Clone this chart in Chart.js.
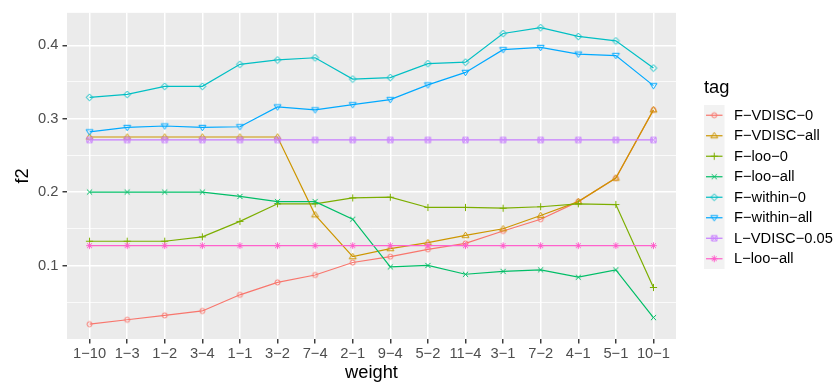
<!DOCTYPE html>
<html>
<head>
<meta charset="utf-8">
<script src="https://cdn.jsdelivr.net/npm/chart.js@4/dist/chart.umd.min.js"></script>
<style>
  html, body { margin: 0; padding: 0; background: #ffffff; }
  #wrap { width: 839px; height: 389px; position: relative; }
</style>
</head>
<body>
<div id="wrap"><canvas id="chart" width="839" height="389"></canvas></div>
<script>
// Weight ratios along the x axis
const weights = ['1−10', '1−3', '1−2', '3−4', '1−1', '3−2', '7−4', '2−1', '9−4', '5−2', '11−4', '3−1', '7−2', '4−1', '5−1', '10−1'];

// Series names (legend "tag")
const tags = ['F−VDISC−0', 'F−VDISC−all', 'F−loo−0', 'F−loo−all', 'F−within−0', 'F−within−all', 'L−VDISC−0.05', 'L−loo−all'];

// f2 scores per series
const fVdisc0    = [0.020, 0.026, 0.032, 0.038, 0.060, 0.077, 0.087, 0.104, 0.112, 0.122, 0.130, 0.147, 0.163, 0.187, 0.219, 0.312];
const fVdiscAll  = [0.275, 0.275, 0.275, 0.275, 0.275, 0.275, 0.169, 0.112, 0.123, 0.131, 0.141, 0.150, 0.168, 0.187, 0.219, 0.312];
const fLoo0      = [0.133, 0.133, 0.133, 0.139, 0.160, 0.184, 0.184, 0.192, 0.193, 0.179, 0.179, 0.178, 0.180, 0.184, 0.183, 0.070];
const fLooAll    = [0.200, 0.200, 0.200, 0.200, 0.194, 0.187, 0.187, 0.163, 0.098, 0.100, 0.088, 0.092, 0.094, 0.084, 0.094, 0.029];
const fWithin0   = [0.329, 0.333, 0.344, 0.344, 0.374, 0.380, 0.383, 0.354, 0.356, 0.375, 0.377, 0.416, 0.424, 0.412, 0.406, 0.369];
const fWithinAll = [0.282, 0.288, 0.290, 0.288, 0.289, 0.316, 0.312, 0.319, 0.326, 0.346, 0.363, 0.394, 0.397, 0.388, 0.386, 0.345];
const lVdisc005  = [0.271, 0.271, 0.271, 0.271, 0.271, 0.271, 0.271, 0.271, 0.271, 0.271, 0.271, 0.271, 0.271, 0.271, 0.271, 0.271];
const lLooAll    = [0.127, 0.127, 0.127, 0.127, 0.127, 0.127, 0.127, 0.127, 0.127, 0.127, 0.127, 0.127, 0.127, 0.127, 0.127, 0.127];

// Y tick labels (major), minor grid lines sit halfway between
const yMajorTicks = [0.1, 0.2, 0.3, 0.4];
const yMinorTicks = [0.05, 0.15, 0.25, 0.35];

const seriesValues = [fVdisc0, fVdiscAll, fLoo0, fLooAll, fWithin0, fWithinAll, lVdisc005, lLooAll];
const colors = ['#F8766D', '#CD9600', '#7CAE00', '#00BE67', '#00BFC4', '#00A9FF', '#C77CFF', '#FF61CC'];
const shapes = ['circle', 'triangle', 'plus', 'cross', 'diamond', 'triangleDown', 'squareCross', 'asterisk'];

// Open marker glyphs drawn onto small canvases
function marker(shape, color) {
  const s = 13, c = s / 2;
  const cv = document.createElement('canvas');
  cv.width = s; cv.height = s;
  const g = cv.getContext('2d');
  g.strokeStyle = color;
  g.lineWidth = 1;
  g.beginPath();
  switch (shape) {
    case 'circle':
      g.arc(c, c, 2.5, 0, Math.PI * 2);
      break;
    case 'triangle':
      g.moveTo(c, c - 3.3); g.lineTo(c + 3.5, c + 2.2); g.lineTo(c - 3.5, c + 2.2); g.closePath();
      break;
    case 'triangleDown':
      g.moveTo(c, c + 3.3); g.lineTo(c + 3.5, c - 2.2); g.lineTo(c - 3.5, c - 2.2); g.closePath();
      break;
    case 'plus':
      g.moveTo(c - 3.6, c); g.lineTo(c + 3.6, c); g.moveTo(c, c - 3.6); g.lineTo(c, c + 3.6);
      break;
    case 'cross':
      g.moveTo(c - 2.6, c - 2.6); g.lineTo(c + 2.6, c + 2.6); g.moveTo(c + 2.6, c - 2.6); g.lineTo(c - 2.6, c + 2.6);
      break;
    case 'diamond':
      g.moveTo(c, c - 3.4); g.lineTo(c + 3.4, c); g.lineTo(c, c + 3.4); g.lineTo(c - 3.4, c); g.closePath();
      break;
    case 'squareCross':
      g.rect(c - 2.6, c - 2.6, 5.2, 5.2);
      g.moveTo(c - 2.6, c - 2.6); g.lineTo(c + 2.6, c + 2.6); g.moveTo(c + 2.6, c - 2.6); g.lineTo(c - 2.6, c + 2.6);
      break;
    case 'asterisk':
      g.moveTo(c - 3.4, c); g.lineTo(c + 3.4, c); g.moveTo(c, c - 3.4); g.lineTo(c, c + 3.4);
      g.moveTo(c - 2.5, c - 2.5); g.lineTo(c + 2.5, c + 2.5); g.moveTo(c + 2.5, c - 2.5); g.lineTo(c - 2.5, c + 2.5);
      break;
  }
  g.stroke();
  return cv;
}

const markers = shapes.map((s, i) => marker(s, colors[i]));

const datasets = tags.map((tag, i) => ({
  label: tag,
  data: seriesValues[i].map((v, j) => ({ x: j, y: v })),
  borderColor: colors[i],
  backgroundColor: colors[i],
  borderWidth: 1.2,
  pointStyle: markers[i],
  pointRadius: 4,
  tension: 0,
  order: tags.length - i
}));

// 5% expansion of the continuous axis around the data range
const allValues = seriesValues.flat();
const dMin = Math.min(...allValues), dMax = Math.max(...allValues);
const yMin = dMin - 0.05 * (dMax - dMin);
const yMax = dMax + 0.05 * (dMax - dMin);

const FONT = '"Liberation Sans", Arial, Helvetica, sans-serif';
const TICK_SIZE = 14.7;
const TITLE_SIZE = 18.3;

const isMajor = (v) => yMajorTicks.some(t => Math.abs(t - v) < 1e-9);

// Grey panel background
const panelBg = {
  id: 'panelBg',
  beforeDraw(chart) {
    const { ctx, chartArea: a } = chart;
    ctx.save();
    ctx.fillStyle = '#EBEBEB';
    ctx.fillRect(a.left, a.top, a.right - a.left, a.bottom - a.top);
    ctx.restore();
  }
};

// Legend with grey keys, line segment and marker
const sideLegend = {
  id: 'sideLegend',
  afterDraw(chart) {
    const { ctx } = chart;
    ctx.save();
    ctx.fillStyle = '#000000';
    ctx.font = TITLE_SIZE + 'px ' + FONT;
    ctx.textBaseline = 'alphabetic';
    ctx.textAlign = 'left';
    ctx.fillText('tag', 704, 93);
    const kx = 704, ky = 105, kw = 20.5, kh = 20.5;
    ctx.fillStyle = '#F2F2F2';
    ctx.fillRect(kx, ky, kw, kh * tags.length);
    tags.forEach((tag, i) => {
      const cy = ky + kh * i + kh / 2;
      ctx.strokeStyle = colors[i];
      ctx.lineWidth = 1.2;
      ctx.beginPath();
      ctx.moveTo(kx + 2, cy);
      ctx.lineTo(kx + kw - 2, cy);
      ctx.stroke();
      const m = markers[i];
      ctx.drawImage(m, kx + kw / 2 - m.width / 2, cy - m.height / 2);
      ctx.fillStyle = '#000000';
      ctx.font = TICK_SIZE + 'px ' + FONT;
      ctx.textBaseline = 'middle';
      ctx.fillText(tag, 734, cy + 0.5);
    });
    ctx.restore();
  }
};

new Chart(document.getElementById('chart'), {
  type: 'line',
  data: { datasets },
  plugins: [panelBg, sideLegend],
  options: {
    responsive: false,
    animation: false,
    events: [],
    layout: { padding: { top: 8, right: 163, left: 0, bottom: 0 } },
    plugins: { legend: { display: false }, tooltip: { enabled: false } },
    scales: {
      x: {
        type: 'linear',
        min: -0.6,
        max: weights.length - 1 + 0.6,
        afterBuildTicks(scale) { scale.ticks = weights.map((w, i) => ({ value: i })); },
        afterFit(scale) { scale.height = 50; },
        ticks: {
          autoSkip: false,
          maxRotation: 0,
          color: '#4D4D4D',
          font: { family: FONT, size: TICK_SIZE },
          padding: 2,
          callback: (v) => weights[v]
        },
        grid: { color: '#FFFFFF', lineWidth: 1.5, tickLength: 4.5, tickColor: '#333333', tickWidth: 1.4 },
        border: { display: false },
        title: { display: true, text: 'weight', color: '#000000', font: { family: FONT, size: TITLE_SIZE }, padding: { top: 0, bottom: 5 } }
      },
      y: {
        type: 'linear',
        min: yMin,
        max: yMax,
        afterBuildTicks(scale) {
          scale.ticks = yMinorTicks.concat(yMajorTicks).sort((a, b) => a - b).map(v => ({ value: v }));
        },
        afterFit(scale) { scale.width = 67; },
        ticks: {
          color: '#4D4D4D',
          font: { family: FONT, size: TICK_SIZE },
          padding: 4,
          callback: (v) => isMajor(v) ? v.toFixed(1) : ''
        },
        grid: {
          color: '#FFFFFF',
          lineWidth: (c) => isMajor(c.tick.value) ? 1.5 : 0.75,
          tickLength: 4.5,
          tickColor: (c) => isMajor(c.tick.value) ? '#333333' : 'rgba(0,0,0,0)',
          tickWidth: 1.4
        },
        border: { display: false },
        title: { display: true, text: 'f2', color: '#000000', font: { family: FONT, size: TITLE_SIZE }, padding: { top: 12, bottom: 0 } }
      }
    }
  }
});
</script>
</body>
</html>
